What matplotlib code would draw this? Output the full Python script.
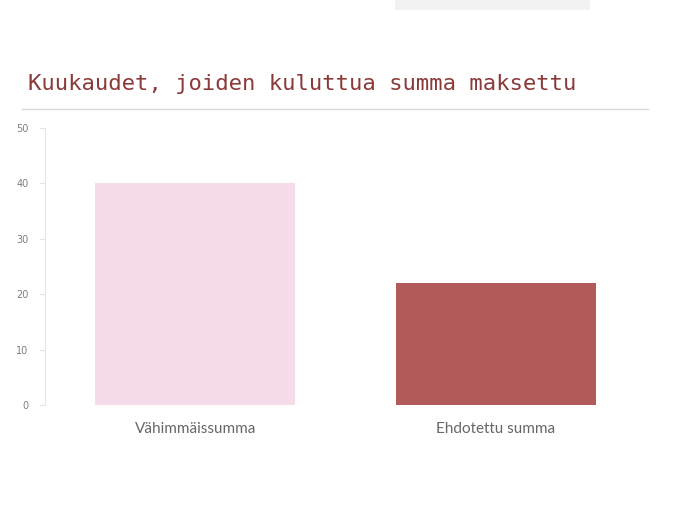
import matplotlib.pyplot as plt
from matplotlib.patches import Rectangle
from matplotlib.lines import Line2D

categories = ["Vähimmäissumma", "Ehdotettu summa"]
values = [40, 22]
bar_colors = ["#f6dbe8", "#b25a5a"]
yticks = [0, 10, 20, 30, 40, 50]
title = "Kuukaudet, joiden kuluttua summa maksettu"

fig = plt.figure(figsize=(6.75, 5.2), dpi=100)
ax = fig.add_axes([45 / 675, 115 / 520, 601 / 675, 277 / 520])

ax.bar(range(len(categories)), values, width=2 / 3, color=bar_colors)
ax.set_xlim(-0.5, 1.5)
ax.set_ylim(0, 50)
ax.set_yticks(yticks)
ax.set_xticks(range(len(categories)))
ax.set_xticklabels(categories, fontsize=11, color="#666666", family="Lato")

for s in ["top", "right", "bottom"]:
    ax.spines[s].set_visible(False)
ax.spines["left"].set_color("#e6e6e6")
ax.tick_params(axis="y", length=4, color="#e6e6e6", labelsize=7,
               labelcolor="#7f7f7f", pad=8)
ax.tick_params(axis="x", length=0, pad=12)

# title and rule under it
fig.text(28 / 675, 1 - 90 / 520, title, fontsize=16, color="#8b3a3a",
         family="DejaVu Sans Mono", ha="left", va="baseline")
fig.add_artist(Line2D([22 / 675, 648 / 675], [1 - 109 / 520, 1 - 109 / 520],
                      color="#d9d9d9", lw=1))

# light box at the top edge
fig.add_artist(Rectangle((395 / 675, 1 - 10 / 520), 195 / 675, 10 / 520,
                         color="#f2f2f2", lw=0))

plt.savefig("out.png", dpi=100)
